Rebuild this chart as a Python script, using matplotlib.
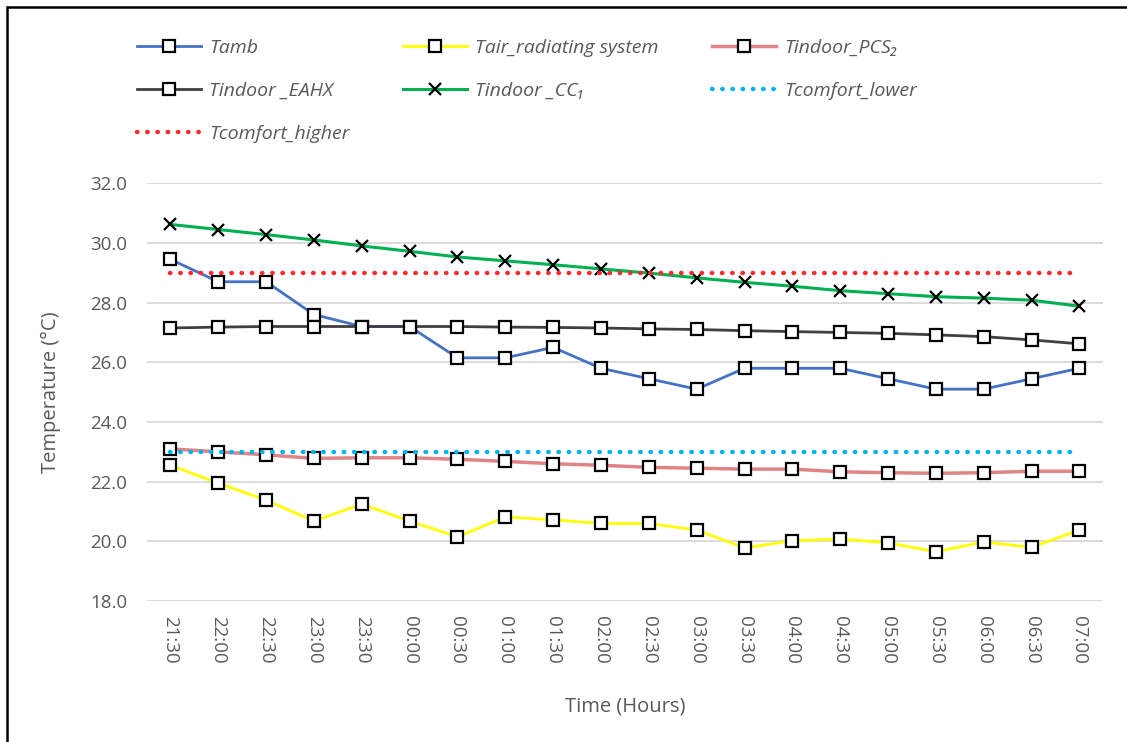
import numpy as np
import matplotlib
matplotlib.use('Agg')
import matplotlib.pyplot as plt
from matplotlib.patches import Rectangle

plt.rcParams['font.family'] = ['Open Sans', 'DejaVu Sans']

## data
times = ['21:30','22:00','22:30','23:00','23:30','00:00','00:30','01:00','01:30','02:00',
         '02:30','03:00','03:30','04:00','04:30','05:00','05:30','06:00','06:30','07:00']
tamb = [29.45,28.7,28.7,27.6,27.2,27.2,26.15,26.15,26.5,25.8,
        25.45,25.1,25.8,25.8,25.8,25.45,25.1,25.1,25.45,25.8]
tair_rad = [22.55,21.95,21.38,20.68,21.25,20.68,20.15,20.82,20.72,20.6,
            20.6,20.38,19.78,20.02,20.08,19.95,19.65,19.98,19.8,20.38]
tin_pcs2 = [23.1,23.0,22.9,22.78,22.8,22.8,22.75,22.68,22.6,22.55,
            22.48,22.45,22.42,22.42,22.33,22.3,22.28,22.3,22.35,22.35]
tin_eahx = [27.15,27.18,27.2,27.2,27.2,27.2,27.2,27.18,27.17,27.15,
            27.12,27.1,27.06,27.03,27.0,26.97,26.92,26.86,26.75,26.62]
tin_cc1 = [30.62,30.45,30.28,30.1,29.9,29.72,29.53,29.4,29.27,29.13,
           28.99,28.83,28.68,28.55,28.4,28.3,28.2,28.15,28.08,27.88]
tcomf_lower = [23.0]*len(times)
tcomf_higher = [29.0]*len(times)

x = np.arange(len(times))
txtc = '#595959'

fig = plt.figure(figsize=(11.27,7.42), dpi=100)
ax = fig.add_axes([0.130, 0.190, 0.849, 0.563])

sq = dict(marker='s', markersize=9, markerfacecolor='white', markeredgecolor='black', markeredgewidth=1.6)
dot = dict(linestyle=(0,(0.1,2.2)), linewidth=3.2, dash_capstyle='round')

h_tamb, = ax.plot(x, tamb, color='#4472C4', lw=2, label='Tamb', **sq)
h_tair, = ax.plot(x, tair_rad, color='#FFFF00', lw=2, label='Tair_radiating system', **sq)
h_pcs, = ax.plot(x, tin_pcs2, color='#E08585', lw=2.5, label='Tindoor_PCS\u2082', **sq)
h_eahx, = ax.plot(x, tin_eahx, color='#404040', lw=2, label='Tindoor _EAHX', **sq)
h_cc, = ax.plot(x, tin_cc1, color='#00B050', lw=2.2, marker='x', markersize=9,
                markeredgecolor='black', markeredgewidth=1.6, label='Tindoor _CC\u2081')
h_low, = ax.plot(x, tcomf_lower, color='#00B0F0', label='Tcomfort_lower', **dot)
h_high, = ax.plot(x, tcomf_higher, color='#FF2A2A', label='Tcomfort_higher', **dot)

ax.set_xlim(-0.5, len(times)-0.5)
ax.set_ylim(18, 32)
ax.set_yticks(np.arange(18, 32.1, 2))
ax.set_yticklabels(['%.1f' % v for v in np.arange(18, 32.1, 2)])
ax.set_xticks(x)
ax.set_xticklabels(times, rotation=-90)
ax.tick_params(axis='both', length=0, labelsize=13.5, labelcolor=txtc)
ax.tick_params(axis='x', pad=11)
ax.tick_params(axis='y', pad=14)
for s in ax.spines.values():
    s.set_visible(False)
ax.grid(axis='y', color='#D9D9D9', linewidth=1.3)
ax.set_axisbelow(True)

ax.set_ylabel('Temperature (\u00b0C)', fontsize=14.5, color=txtc, labelpad=21)
ax.set_xlabel('Time (Hours)', fontsize=14.5, color=txtc, labelpad=23)

handles = [h_tamb, h_eahx, h_high, h_tair, h_cc, h_pcs, h_low]
leg = fig.legend(handles=handles, labels=[h.get_label() for h in handles], ncol=3,
                 loc='upper left', bbox_to_anchor=(0.113, 0.961), frameon=False,
                 prop={'style': 'italic', 'size': 14}, handlelength=3.3, borderpad=0,
                 columnspacing=2.75, labelspacing=1.3, handletextpad=0.4)
for t in leg.get_texts():
    t.set_color(txtc)

fig.patches.append(Rectangle((0.006, -0.01), 1.0, 1.0, transform=fig.transFigure,
                             fill=False, edgecolor='black', linewidth=1.8))

plt.savefig('out.png', format='png')
